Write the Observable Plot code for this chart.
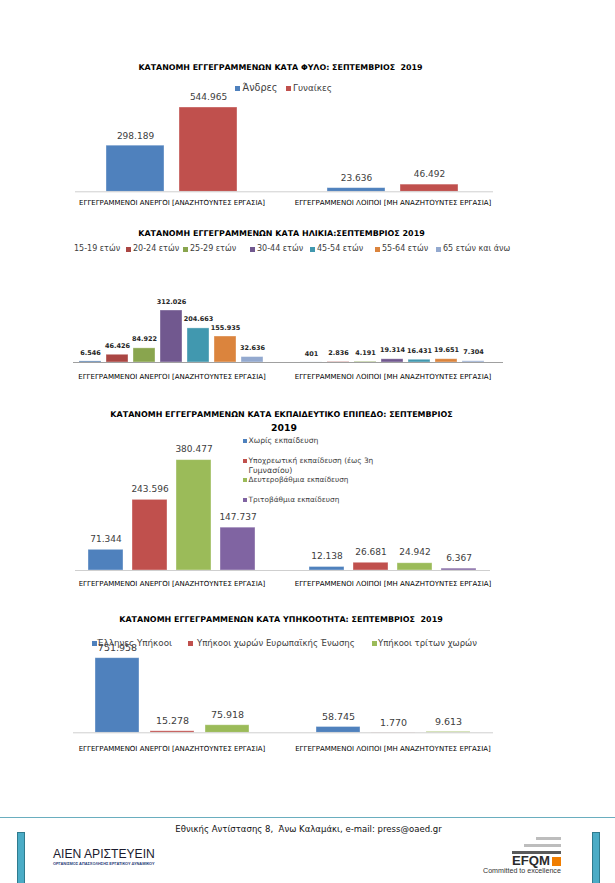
<!DOCTYPE html>
<html><head><meta charset="utf-8">
<script src="https://cdn.jsdelivr.net/npm/d3@7"></script>
<script src="https://cdn.jsdelivr.net/npm/@observablehq/plot@0.6"></script>
<style>
body{margin:0;background:#fff;}
#page{position:relative;width:615px;height:883px;overflow:hidden;background:#fff;font-family:"DejaVu Sans",sans-serif;}
.abs{position:absolute;white-space:pre;line-height:1;}
.chart{position:absolute;left:0;}
</style></head><body><div id="page"></div>
<script>
// ---------------- DATA ----------------
const categories = ["ΕΓΓΕΓΡΑΜΜΕΝΟΙ ΑΝΕΡΓΟΙ [ΑΝΑΖΗΤΟΥΝΤΕΣ ΕΡΓΑΣΙΑ]", "ΕΓΓΕΓΡΑΜΜΕΝΟΙ ΛΟΙΠΟΙ [ΜΗ ΑΝΑΖΗΤΟΥΝΤΕΣ ΕΡΓΑΣΙΑ]"];

const genderTitle = "ΚΑΤΑΝΟΜΗ ΕΓΓΕΓΡΑΜΜΕΝΩΝ ΚΑΤΑ ΦΥΛΟ: ΣΕΠΤΕΜΒΡΙΟΣ  2019";
const genderSeries = ["Άνδρες", "Γυναίκες"];
const genderUnemployed = [298189, 544965];
const genderOther = [23636, 46492];

const ageTitle = "ΚΑΤΑΝΟΜΗ ΕΓΓΕΓΡΑΜΜΕΝΩΝ ΚΑΤΑ ΗΛΙΚΙΑ:ΣΕΠΤΕΜΒΡΙΟΣ 2019";
const ageSeries = ["15-19 ετών", "20-24 ετών", "25-29 ετών", "30-44 ετών", "45-54 ετών", "55-64 ετών", "65 ετών και άνω"];
const ageUnemployed = [6546, 46426, 84922, 312026, 204663, 155935, 32636];
const ageOther = [401, 2836, 4191, 19314, 16431, 19651, 7304];

const eduTitle1 = "ΚΑΤΑΝΟΜΗ ΕΓΓΕΓΡΑΜΜΕΝΩΝ ΚΑΤΑ ΕΚΠΑΙΔΕΥΤΙΚΟ ΕΠΙΠΕΔΟ: ΣΕΠΤΕΜΒΡΙΟΣ";
const eduTitle2 = "2019";
const eduSeries = ["Χωρίς εκπαίδευση", "Υποχρεωτική εκπαίδευση (έως 3η Γυμνασίου)", "Δευτεροβάθμια εκπαίδευση", "Τριτοβάθμια εκπαίδευση"];
const eduUnemployed = [71344, 243596, 380477, 147737];
const eduOther = [12138, 26681, 24942, 6367];

const natTitle = "ΚΑΤΑΝΟΜΗ ΕΓΓΕΓΡΑΜΜΕΝΩΝ ΚΑΤΑ ΥΠΗΚΟΟΤΗΤΑ: ΣΕΠΤΕΜΒΡΙΟΣ  2019";
const natSeries = ["Έλληνες Υπήκοοι", "Υπήκοοι χωρών Ευρωπαϊκής Ένωσης", "Υπήκοοι τρίτων χωρών"];
const natUnemployed = [751958, 15278, 75918];
const natOther = [58745, 1770, 9613];

const footerText = "Εθνικής Αντίστασης 8,  Άνω Καλαμάκι, e-mail: press@oaed.gr";

// ---------------- STYLES ----------------
const officeColors = ["#4F81BD", "#C0504D", "#9BBB59", "#8064A2"];
const ageColors = ["#4572A7", "#AA4643", "#89A54E", "#71588F", "#4198AF", "#DB843D", "#93A9CF"];

const page = document.getElementById("page");
const fmt = d3.formatLocale({decimal: ",", thousands: ".", grouping: [3], currency: ["", "€"]}).format(",d");

function addText(str, {x, cx, cy, w, fs = 9, weight = "normal", color = "#000", family}) {
  const s = document.createElement("span");
  s.className = "abs";
  s.textContent = str;
  s.style.fontSize = fs + "px";
  s.style.fontWeight = weight;
  s.style.color = color;
  if (family) s.style.fontFamily = family;
  page.appendChild(s);
  let r = s.getBoundingClientRect();
  if (w) { fs = fs * w / r.width; s.style.fontSize = fs + "px"; r = s.getBoundingClientRect(); }
  const left = cx !== undefined ? cx - r.width / 2 : x;
  s.style.left = left + "px";
  s.style.top = (cy - r.height / 2) + "px";
  return s;
}
function addBox(x, y, w, h, color, extra = "") {
  const d = document.createElement("div");
  d.style.cssText = `position:absolute;left:${x}px;top:${y}px;width:${w}px;height:${h}px;background:${color};${extra}`;
  page.appendChild(d);
  return d;
}

function chart({top, height, baseline, px, maxV, series, v1, v2, colors, pi, po, fs, dy, labelFill = "#404040", labelWeight = "normal", tickPad, catW, insets, ruleColor}) {
  const data = [];
  series.forEach((s, i) => {
    data.push({cat: categories[0], s, v: v1[i]});
    data.push({cat: categories[1], s, v: v2[i]});
  });
  const b = baseline - top;
  const svg = Plot.plot({
    width: 615, height,
    marginLeft: 61, marginRight: 112, marginTop: 0, marginBottom: height - b,
    style: {background: "transparent", fontFamily: "DejaVu Sans, sans-serif", fontSize: "7px", color: "#000"},
    fx: {domain: categories, paddingInner: 0, paddingOuter: 0, label: null, tickSize: 0, tickPadding: tickPad},
    x: {domain: series, axis: null, paddingInner: pi, paddingOuter: po},
    y: {domain: [0, maxV], range: [b, b - maxV * px], axis: null},
    color: {domain: series, range: colors},
    marks: [
      Plot.barY(data, {fx: "cat", x: "s", y: "v", fill: "s", stroke: "#fff", strokeOpacity: 0.45, strokeWidth: 0.8}),
      Plot.ruleY([categories[0]], {fx: d => d, y: () => 0, insetLeft: insets[0], stroke: ruleColor}),
      Plot.ruleY([categories[1]], {fx: d => d, y: () => 0, insetRight: insets[1], stroke: ruleColor}),
      Plot.text(data, {fx: "cat", x: "s", y: "v", text: d => fmt(d.v), dy: -dy, fontSize: fs, fill: labelFill, fontWeight: labelWeight})
    ]
  });
  const holder = document.createElement("div");
  holder.className = "chart";
  holder.style.top = top + "px";
  holder.appendChild(svg);
  page.appendChild(holder);
  // fit category tick labels to their measured widths
  svg.querySelectorAll("text").forEach(t => {
    const k = categories.indexOf(t.textContent);
    if (k >= 0) {
      t.style.fill = "#000";
      const len = t.getComputedTextLength();
      if (len > 0) t.style.fontSize = (7 * catW[k] / len) + "px";
    }
  });
}

// ---------------- CHART 1: gender ----------------
addText(genderTitle, {cx: 280.5, cy: 68, w: 285, fs: 8, weight: "bold"});
addBox(235, 85.5, 5, 5, officeColors[0]);
addText(genderSeries[0], {x: 242.5, cy: 88, w: 35, fs: 9, color: "#404040"});
addBox(286, 85.5, 5, 5, officeColors[1]);
addText(genderSeries[1], {x: 293, cy: 88, w: 39, fs: 9, color: "#404040"});
chart({top: 90, height: 120, baseline: 191.3, px: 84.3 / 544965, maxV: 600000,
  series: genderSeries, v1: genderUnemployed, v2: genderOther, colors: officeColors.slice(0, 2),
  pi: 0.203, po: 0.595, fs: 9, dy: 10, tickPad: 8.3, catW: [186, 197], insets: [14, 10], ruleColor: "#cfcfcf"});

// ---------------- CHART 2: age ----------------
addText(ageTitle, {cx: 281.5, cy: 234, w: 287, fs: 9, weight: "bold"});
const ageLegendSw = [null, 126, 183, 250, 310, 375, 436];
const ageLegendTx = [74, 133, 190, 257, 317, 382, 443];
ageSeries.forEach((s, i) => {
  if (ageLegendSw[i] !== null) addBox(ageLegendSw[i], 246.5, 5, 5, ageColors[i]);
  addText(s, {x: ageLegendTx[i], cy: 249, fs: 8, color: "#404040"});
});
chart({top: 280, height: 110, baseline: 362, px: 52 / 312026, maxV: 350000,
  series: ageSeries, v1: ageUnemployed, v2: ageOther, colors: ageColors,
  pi: 0.185, po: 0.685, fs: 6.5, dy: 9, labelFill: "#262626", labelWeight: "bold", tickPad: 11.6, catW: [188, 197], insets: [12, 0], ruleColor: "#a0a0a0"});

// ---------------- CHART 3: education ----------------
addText(eduTitle1, {cx: 281.5, cy: 415, w: 343, fs: 9, weight: "bold"});
addText(eduTitle2, {cx: 284, cy: 428, fs: 9.3, weight: "bold"});
chart({top: 440, height: 160, baseline: 570, px: 0.00029, maxV: 400000,
  series: eduSeries, v1: eduUnemployed, v2: eduOther, colors: officeColors,
  pi: 0.2, po: 0.61, fs: 9, dy: 11, tickPad: 10.9, catW: [187, 197], insets: [14, 13], ruleColor: "#cfcfcf"});
addBox(243, 439, 4, 4, officeColors[0]);
addText(eduSeries[0], {x: 248.5, cy: 441, w: 70, fs: 7, color: "#404040"});
addBox(243, 459, 4, 4, officeColors[1]);
addText("Υποχρεωτική εκπαίδευση (έως 3η", {x: 248.5, cy: 461, w: 125, fs: 7, color: "#404040"});
addText("Γυμνασίου)", {x: 248.5, cy: 470.5, w: 44, fs: 7, color: "#404040"});
addBox(243, 478, 4, 4, officeColors[2]);
addText(eduSeries[2], {x: 248.5, cy: 480, w: 100, fs: 7, color: "#404040"});
addBox(243, 498, 4, 4, officeColors[3]);
addText(eduSeries[3], {x: 248.5, cy: 500, w: 91, fs: 7, color: "#404040"});

// ---------------- CHART 4: nationality ----------------
addText(natTitle, {cx: 281, cy: 620, w: 324, fs: 9, weight: "bold"});
chart({top: 640, height: 120, baseline: 732.3, px: 74.6 / 751958, maxV: 800000,
  series: natSeries, v1: natUnemployed, v2: natOther, colors: officeColors.slice(0, 3),
  pi: 0.207, po: 0.594, fs: 9.5, dy: 10, tickPad: 13.6, catW: [187, 196], insets: [12, 10], ruleColor: "#cfcfcf"});
const natLegend = [[92, 97, 75], [188, 197, 158], [372, 378, 99]];
natSeries.forEach((s, i) => {
  addBox(natLegend[i][0], 640.5, 5, 5, officeColors[i]);
  addText(s, {x: natLegend[i][1], cy: 643, w: natLegend[i][2], fs: 8.5, color: "#404040"});
});

// ---------------- FOOTER ----------------
addBox(0, 816.5, 615, 1.2, "#6aaebf");
addText(footerText, {cx: 308.5, cy: 829, w: 267, fs: 9, color: "#111"});
addBox(17, 832, 8, 60, "#4bacc6", "box-sizing:border-box;border:1px solid #2f7b8e;");
addBox(592, 832, 8, 60, "#4bacc6", "box-sizing:border-box;border:1px solid #2f7b8e;");
addText("ΑΙΕΝ ΑΡΙΣΤΕΥΕΙΝ", {x: 53, cy: 854, w: 102, fs: 11, color: "#1b1b2e", family: "Liberation Sans"});
addText("ΟΡΓΑΝΙΣΜΟΣ ΑΠΑΣΧΟΛΗΣΗΣ ΕΡΓΑΤΙΚΟΥ ΔΥΝΑΜΙΚΟΥ", {x: 53, cy: 863.5, w: 102, fs: 3, color: "#1f3b77", weight: "bold", family: "Liberation Sans"});
addBox(536, 837, 25, 3, "#bdbdbd");
addBox(524, 844, 37, 3, "#bdbdbd");
addBox(512, 851, 49, 3, "#5a5a5a");
addText("EFQM", {x: 512, cy: 861, w: 38, fs: 10, weight: "bold", color: "#2b2b2b", family: "Liberation Sans"});
addBox(552, 856.5, 9, 9, "#f07d00");
addText("Committed to excellence", {x: 483, cy: 871.5, w: 78, fs: 6, color: "#333", family: "Liberation Sans"});
</script></body></html>
